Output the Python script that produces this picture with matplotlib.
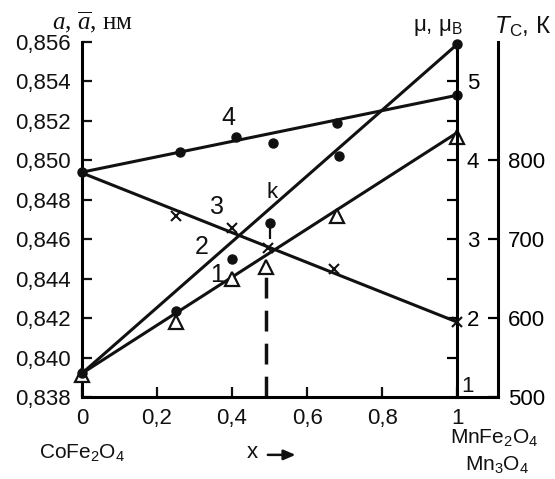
import matplotlib
matplotlib.use('Agg')
import matplotlib.pyplot as plt
import numpy as np

plt.rcParams['font.family'] = ['Liberation Sans', 'DejaVu Sans']
plt.rcParams['mathtext.fontset'] = 'custom'
plt.rcParams['mathtext.rm'] = 'Liberation Sans'
plt.rcParams['mathtext.it'] = 'Liberation Serif:italic'
plt.rcParams['mathtext.sf'] = 'Liberation Sans:italic'

# ---- data ----
# curve 1: lattice parameter a (triangles), left axis
x_tri = [0.0, 0.25, 0.40, 0.49, 0.68, 1.0]
a_tri = [0.8391, 0.8418, 0.8440, 0.8446, 0.8472, 0.8512]
x_fit1 = [0.0, 1.0]
a_fit1 = [0.8392, 0.8514]

# curve 4: average lattice parameter (dots), left axis
x_dot4 = [0.0, 0.26, 0.41, 0.51, 0.68, 1.0]
a_dot4 = [0.8494, 0.8504, 0.8512, 0.8509, 0.8519, 0.8533]
x_fit4 = [0.0, 1.0]
a_fit4 = [0.8494, 0.8533]

# curve 2: magnetic moment mu (dots), mu axis
x_mu = [0.0, 0.25, 0.40, 0.50, 0.685, 1.0]
mu_vals = [1.30, 2.09, 2.75, 3.20, 4.05, 5.47]
x_fit2 = [0.0, 1.0]
mu_fit2 = [1.30, 5.47]

# curve 3: Curie temperature Tc (x markers), Tc axis
x_tc = [0.25, 0.40, 0.496, 0.672, 1.0]
tc_vals = [730, 714, 689, 662, 595]
x_fit3 = [0.0, 1.0]
tc_fit3 = [784, 595]

x_dash = 0.49
a_dash = [0.8380, 0.84435]

xticks = [0, 0.2, 0.4, 0.6, 0.8, 1.0]
xticklabels = ['0', '0,2', '0,4', '0,6', '0,8', '1']
aticks = [0.838, 0.840, 0.842, 0.844, 0.846, 0.848, 0.850, 0.852, 0.854, 0.856]
aticklabels = ['0,838', '0,840', '0,842', '0,844', '0,846', '0,848', '0,850', '0,852', '0,854', '0,856']
muticks = [1.5, 2, 2.5, 3, 3.5, 4, 4.5, 5]
muticklabels = ['', '2', '', '3', '', '4', '', '5']
tcticks = [500, 600, 700, 800]
tcticklabels = ['500', '600', '700', '800']

LW = 2.2
FS = 16

fig = plt.figure(figsize=(5.55, 4.79), dpi=100)
ax = fig.add_axes([82/555, 82/479, 416/555, 355/479])
ax.set_xlim(0, 1.109)
ax.set_ylim(0.838, 0.856)
for s in ['top', 'right']:
    ax.spines[s].set_visible(False)
for s in ['left', 'bottom']:
    ax.spines[s].set_linewidth(LW)
ax.set_xticks(xticks)
ax.set_xticklabels(xticklabels)
ax.set_yticks(aticks)
ax.set_yticklabels(aticklabels)
ax.tick_params(direction='in', length=7, width=1.6, labelsize=FS, pad=8, colors='#111111')

ax2 = ax.twinx()
ax2.set_ylim(1, 5.5)
for s in ['top', 'left', 'bottom']:
    ax2.spines[s].set_visible(False)
ax2.spines['right'].set_position(('data', 1.0))
ax2.spines['right'].set_linewidth(LW)
ax2.set_yticks(muticks)
ax2.set_yticklabels(muticklabels)
ax2.tick_params(direction='in', length=7, width=1.6, labelsize=FS, pad=7)

ax3 = ax.twinx()
ax3.set_ylim(500, 950)
for s in ['top', 'left', 'bottom']:
    ax3.spines[s].set_visible(False)
ax3.spines['right'].set_linewidth(LW)
ax3.set_yticks(tcticks)
ax3.set_yticklabels(tcticklabels)
ax3.tick_params(direction='in', length=7, width=1.6, labelsize=FS, pad=7)

k = '#111111'
# curve 1
ax.plot(x_fit1, a_fit1, color=k, lw=LW, solid_capstyle='butt', zorder=2)
ax.plot(x_tri, a_tri, linestyle='none', marker='^', ms=10.5, mfc='white', mec=k, mew=1.6,
        clip_on=False, zorder=4)
# curve 4
ax.plot(x_fit4, a_fit4, color=k, lw=LW, zorder=2)
ax.plot(x_dot4, a_dot4, linestyle='none', marker='o', ms=6.5, color=k, clip_on=False, zorder=4)
# dashed line
ax.plot([x_dash, x_dash], a_dash, color=k, lw=2.5, dashes=(6, 3.5), zorder=2)
# curve 2 (mu)
ax2.plot(x_fit2, mu_fit2, color=k, lw=LW, zorder=2)
ax2.plot(x_mu, mu_vals, linestyle='none', marker='o', ms=6.5, color=k, clip_on=False, zorder=4)
ax2.errorbar([x_mu[3]], [mu_vals[3]], yerr=[[0.2], [0]], fmt='none', ecolor=k, elinewidth=1.6, capsize=0)
# curve 3 (Tc)
ax3.plot(x_fit3, tc_fit3, color=k, lw=LW, zorder=2)
ax3.plot(x_tc, tc_vals, linestyle='none', marker='x', ms=7, mec=k, mew=1.5, clip_on=False, zorder=4)

# extra mu label "1"
ax2.text(1.029, 1.127, '1', ha='center', va='center', fontsize=FS, color=k)

# curve labels
ax.text(0.389, 0.85217, '4', ha='center', va='center', fontsize=18, color=k)
ax.text(0.36, 0.84765, '3', ha='center', va='center', fontsize=18, color=k)
ax.text(0.32, 0.84562, '2', ha='center', va='center', fontsize=18, color=k)
ax.text(0.36, 0.84420, '1', ha='center', va='center', fontsize=18, color=k)
ax.text(0.507, 0.84836, 'k', ha='center', va='center', fontsize=16, color=k)

# axis titles
ax.text(0.024, 1.056, r'$a$, $\overline{a}$, нм', transform=ax.transAxes, ha='center', va='center',
        fontsize=18, family='Liberation Serif', color=k)
ax.text(0.856, 1.042, r'μ, μ$_\mathrm{В}$', transform=ax.transAxes, ha='center', va='center',
        fontsize=16, color=k)
ax.text(1.06, 1.042, r'$\mathsf{T}_\mathrm{С}$, К', transform=ax.transAxes, ha='center', va='center',
        fontsize=17.5, color=k)

# bottom labels
ax.text(0.0, -0.155, r'CoFe$_2$O$_4$', transform=ax.transAxes, ha='center', va='center', fontsize=15, color=k)
ax.text(0.409, -0.155, 'x', transform=ax.transAxes, ha='center', va='center', fontsize=16, color=k)
ax.annotate('', xy=(0.52, -0.163), xytext=(0.44, -0.163), xycoords='axes fraction',
            arrowprops=dict(arrowstyle='-|>,head_length=0.7,head_width=0.3', color=k, lw=1.8))
ax.text(0.99, -0.115, r'MnFe$_2$O$_4$', transform=ax.transAxes, ha='center', va='center', fontsize=15, color=k)
ax.text(0.998, -0.189, r'Mn$_3$O$_4$', transform=ax.transAxes, ha='center', va='center', fontsize=15, color=k)

fig.savefig('out.png', dpi=100)
